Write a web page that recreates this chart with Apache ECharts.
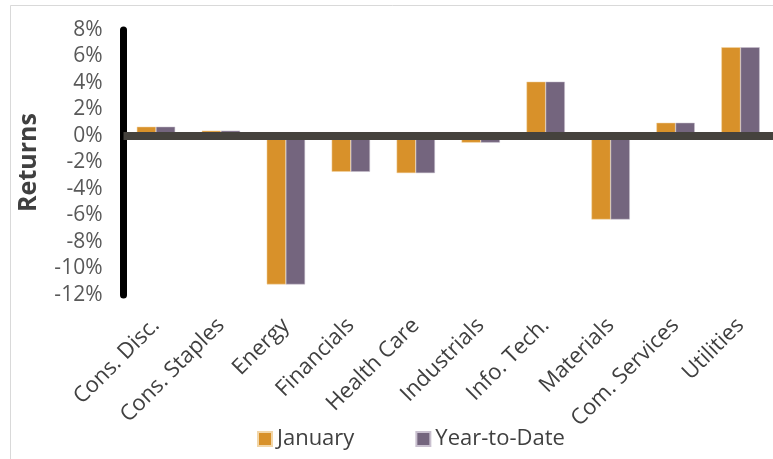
<!DOCTYPE html>
<html>
<head>
<meta charset="utf-8">
<script src="https://cdn.jsdelivr.net/npm/echarts@6/dist/echarts.min.js"></script>
<style>
html,body{margin:0;padding:0;background:#fff;}
#c{width:773px;height:459px;}
</style>
</head>
<body>
<div id="c"></div>
<script>
const categories = ['Cons. Disc.', 'Cons. Staples', 'Energy', 'Financials', 'Health Care', 'Industrials', 'Info. Tech.', 'Materials', 'Com. Services', 'Utilities'];
const january = [0.7, 0.4, -11.2, -2.7, -2.8, -0.5, 4.1, -6.3, 1.0, 6.7];
const yearToDate = [0.7, 0.4, -11.2, -2.7, -2.8, -0.5, 4.1, -6.3, 1.0, 6.7];
const yMin = -12, yMax = 8, yStep = 2;

const chart = echarts.init(document.getElementById('c'), null, {renderer: 'canvas'});
const FONT = '"Open Sans", sans-serif';
chart.setOption({
  animation: false,
  backgroundColor: '#fff',
  graphic: [{
    type: 'polyline',
    shape: {points: [[10.5, 470], [10.5, 5.5], [790, 5.5]]},
    style: {stroke: '#d9d9d9', lineWidth: 1, fill: null},
    silent: true
  }],
  grid: {left: 123.5, right: -11.5, top: 30, bottom: 164},
  legend: {
    top: 423, left: 252,
    itemWidth: 14, itemHeight: 14, itemGap: 61,
    textStyle: {fontFamily: FONT, fontSize: 22, color: '#404040'},
    icon: 'rect',
    data: ['January', 'Year-to-Date']
  },
  xAxis: {
    type: 'category',
    data: categories,
    axisLine: {show: false, onZero: false},
    axisTick: {show: false},
    axisLabel: {rotate: 45, interval: 0, margin: 27, fontFamily: FONT, fontSize: 22, color: '#404040'}
  },
  yAxis: {
    type: 'value',
    min: yMin, max: yMax, interval: yStep,
    name: 'Returns',
    nameLocation: 'middle',
    nameGap: 82,
    nameTextStyle: {fontFamily: FONT, fontSize: 25, fontWeight: 'bold', color: '#404040'},
    axisLine: {show: true, lineStyle: {color: '#000', width: 7}},
    axisTick: {show: false},
    splitLine: {show: false},
    axisLabel: {formatter: '{value}%', margin: 21, padding: [4, 0, 0, 0], fontFamily: FONT, fontSize: 21, color: '#595959'}
  },
  series: [{
    name: 'January', type: 'bar', data: january,
    barGap: '0%', barCategoryGap: '41%',
    itemStyle: {color: '#D8912A', borderColor: '#F2D6A8', borderWidth: 0.5},
    markLine: {
      silent: true, symbol: 'none', label: {show: false},
      lineStyle: {color: '#45423D', width: 8, type: 'solid'},
      data: [{yAxis: 0}]
    }
  }, {
    name: 'Year-to-Date', type: 'bar', data: yearToDate,
    itemStyle: {color: '#74657E', borderColor: '#C9C0CF', borderWidth: 0.5}
  }]
});
</script>
</body>
</html>
